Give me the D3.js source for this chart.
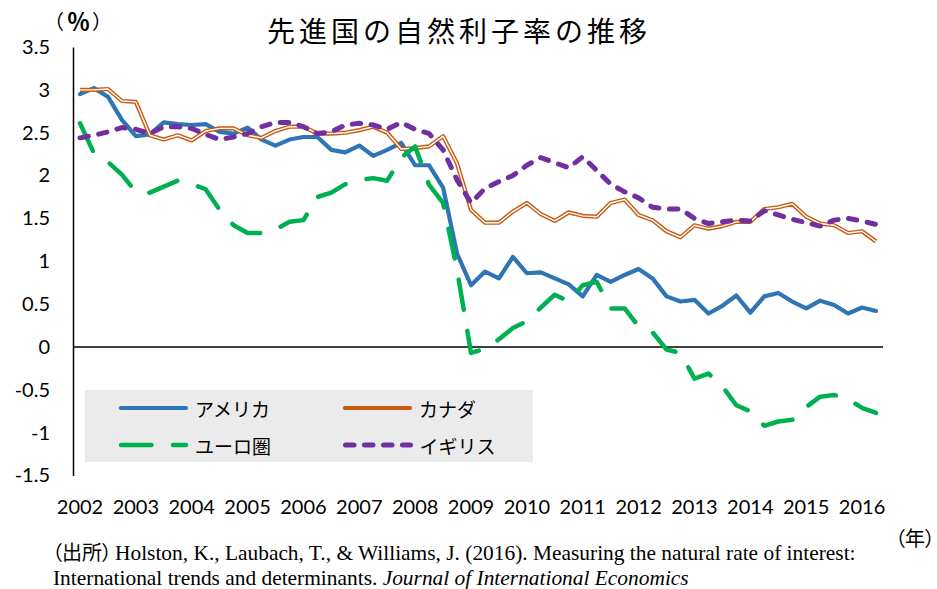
<!DOCTYPE html>
<html>
<head>
<meta charset="utf-8">
<script src="https://cdn.jsdelivr.net/npm/d3@7"></script>
<style>
body { margin: 0; background: #fff; }
svg { display: block; }
.tick text { font-family: Lato, "Noto Sans CJK JP", sans-serif; font-size: 20px; fill: #000; }
.jp { font-family: "Noto Sans CJK JP", sans-serif; fill: #000; }
.src { font-family: "Liberation Serif", "Noto Sans CJK JP", serif; font-size: 21.4px; fill: #000; }
.palt { font-family: "Noto Sans CJK JP", sans-serif; font-feature-settings: "palt" 1; }
</style>
</head>
<body>
<svg id="chart" width="937" height="589"></svg>
<script>
// quarterly data, 2002Q1 - 2016Q2
var years = ["2002","2003","2004","2005","2006","2007","2008","2009","2010","2011","2012","2013","2014","2015","2016"];
var quarters = [];
years.forEach(function(yr){ ["Q1","Q2","Q3","Q4"].forEach(function(q){ quarters.push(yr+q); }); });
quarters = quarters.slice(0, 58);

var america = [2.95,3.02,2.92,2.65,2.46,2.48,2.62,2.60,2.59,2.60,2.51,2.49,2.56,2.42,
  2.35,2.42,2.45,2.45,2.30,2.27,2.35,2.23,2.30,2.38,2.12,2.12,1.86,1.09,
  0.72,0.88,0.80,1.05,0.86,0.87,0.80,0.73,0.59,0.84,0.76,0.84,0.91,0.80,
  0.59,0.53,0.55,0.39,0.48,0.60,0.40,0.59,0.63,0.53,0.45,0.54,0.49,0.39,0.46,0.42];
var canada = [3.00,3.00,3.01,2.87,2.86,2.47,2.42,2.47,2.41,2.52,2.55,2.55,2.47,2.44,
  2.52,2.57,2.57,2.49,2.49,2.50,2.53,2.57,2.50,2.31,2.32,2.34,2.46,2.14,
  1.60,1.45,1.45,1.58,1.68,1.55,1.47,1.57,1.53,1.52,1.68,1.72,1.54,1.48,
  1.35,1.28,1.42,1.38,1.41,1.46,1.46,1.61,1.63,1.67,1.52,1.44,1.42,1.33,1.35,1.23];
var euro = [2.61,2.26,2.16,2.01,1.81,1.80,1.87,1.94,1.90,1.84,1.60,1.42,1.33,1.33,
  1.37,1.46,1.48,1.75,1.80,1.90,1.95,1.97,1.94,2.21,2.34,1.89,1.68,0.90,
  -0.07,-0.02,0.09,0.22,0.30,0.46,0.61,0.53,0.72,0.76,0.45,0.45,0.24,0.17,
  -0.03,-0.07,-0.37,-0.31,-0.46,-0.68,-0.75,-0.92,-0.87,-0.85,-0.70,-0.58,-0.56,-0.61,-0.71,-0.77];
var uk = [2.44,2.47,2.51,2.56,2.54,2.49,2.57,2.57,2.55,2.48,2.42,2.45,2.49,2.57,
  2.62,2.62,2.57,2.49,2.51,2.59,2.61,2.59,2.54,2.62,2.54,2.49,2.30,1.95,
  1.68,1.85,1.93,2.00,2.12,2.21,2.15,2.09,2.22,2.06,1.90,1.81,1.74,1.63,
  1.61,1.61,1.50,1.44,1.46,1.48,1.47,1.59,1.54,1.49,1.45,1.41,1.48,1.50,1.47,1.43];
var yTicks = [3.5,3,2.5,2,1.5,1,0.5,0,-0.5,-1,-1.5];
var names = ["アメリカ","カナダ","ユーロ圏","イギリス"];

var svg = d3.select("#chart");
svg.append("rect").attr("width",937).attr("height",589).attr("fill","#fff");

var x = d3.scaleBand().domain(quarters).range([73, 883]).padding(0);
var bw = x.bandwidth();
var y = d3.scaleLinear().domain([-1.5, 3.5]).range([475.5, 47]);

// y axis
var yAxis = svg.append("g")
  .attr("transform","translate(73,0)")
  .call(d3.axisLeft(y).tickValues(yTicks).tickSize(0).tickPadding(23).tickFormat(function(d){ return String(d); }));
yAxis.select(".domain").attr("stroke","#000").attr("stroke-width",1.5);

// x axis labels
var xAxis = svg.append("g")
  .attr("transform","translate(0,476)")
  .call(d3.axisBottom(x).tickValues(quarters.filter(function(q){ return q.slice(4)=="Q1"; }))
    .tickSize(0).tickPadding(24).tickFormat(function(d){ return d.slice(0,4); }));
xAxis.select(".domain").remove();

// zero line
svg.append("line")
  .attr("x1",73).attr("x2",883).attr("y1",y(0)).attr("y2",y(0))
  .attr("stroke","#000").attr("stroke-width",1.5);

var line = d3.line()
  .x(function(d,i){ return x(quarters[i]) + bw/2; })
  .y(function(d){ return y(d); });

svg.append("path").attr("d", line(america))
  .attr("fill","none").attr("stroke","#2E75B6").attr("stroke-width",4.2)
  .attr("stroke-linejoin","round").attr("stroke-linecap","round");
// canada: double line
svg.append("path").attr("d", line(canada))
  .attr("fill","none").attr("stroke","#C55A11").attr("stroke-width",4.2)
  .attr("stroke-linejoin","round");
svg.append("path").attr("d", line(canada))
  .attr("fill","none").attr("stroke","#fff").attr("stroke-width",1.4)
  .attr("stroke-linejoin","round");
svg.append("path").attr("d", line(euro))
  .attr("fill","none").attr("stroke","#00B050").attr("stroke-width",4.5)
  .attr("stroke-dasharray","30.5,21.5").attr("stroke-linecap","round").attr("stroke-linejoin","round");
svg.append("path").attr("d", line(uk))
  .attr("fill","none").attr("stroke","#7030A0").attr("stroke-width",5)
  .attr("stroke-dasharray","8.5,10.5").attr("stroke-linecap","round").attr("stroke-linejoin","round");

// legend
svg.append("rect").attr("x",85).attr("y",390).attr("width",448).attr("height",72).attr("fill","#EBEBEB");
var legendItems = [
  {name: names[0], color:"#2E75B6", dash:null, w:4.2, lx:121, ly:408},
  {name: names[1], color:"#C55A11", dash:null, w:4.2, lx:345, ly:408},
  {name: names[2], color:"#00B050", dash:"30.5,21.5", w:4.5, lx:121, ly:445},
  {name: names[3], color:"#7030A0", dash:"8.5,10.5", w:5, lx:345.5, ly:445}
];
var lg = svg.append("g").selectAll("g").data(legendItems).enter().append("g");
lg.append("line")
  .attr("x1",function(d){ return d.lx; }).attr("x2",function(d){ return d.lx+65; })
  .attr("y1",function(d){ return d.ly; }).attr("y2",function(d){ return d.ly; })
  .attr("stroke",function(d){ return d.color; }).attr("stroke-width",function(d){ return d.w; })
  .attr("stroke-dasharray",function(d){ return d.dash; }).attr("stroke-linecap","round");
lg.append("text").attr("class","jp")
  .attr("x",function(d){ return d.lx+74; }).attr("y",function(d){ return d.ly; })
  .attr("dominant-baseline","central").attr("font-size",19)
  .text(function(d){ return d.name; });

// title
svg.append("text").attr("class","jp").attr("x",267).attr("y",30)
  .attr("dominant-baseline","central").attr("font-size",28).attr("letter-spacing",4)
  .text("先進国の自然利子率の推移");

// unit labels
var unit = svg.append("text").attr("class","jp").attr("y",20).attr("dominant-baseline","central");
unit.append("tspan").attr("x",44).attr("font-size",20).text("（");
unit.append("tspan").attr("x",67).attr("font-size",23).attr("font-weight","bold").text("％");
unit.append("tspan").attr("x",92).attr("font-size",20).text("）");

svg.append("text").attr("class","palt").attr("x",935).attr("y",537)
  .attr("dominant-baseline","central").attr("text-anchor","end").attr("font-size",20)
  .text("（年）");

// source
var s1 = svg.append("text").attr("class","src").attr("y",560);
s1.append("tspan").attr("class","palt").attr("x",52).attr("font-size",20).text("（出所）");
s1.append("tspan").attr("x",115).text("Holston, K., Laubach, T., & Williams, J. (2016). Measuring the natural rate of interest:");
var s2 = svg.append("text").attr("class","src").attr("x",53).attr("y",585);
s2.append("tspan").text("International trends and determinants. ");
s2.append("tspan").attr("font-style","italic").text("Journal of International Economics");
</script>
</body>
</html>
